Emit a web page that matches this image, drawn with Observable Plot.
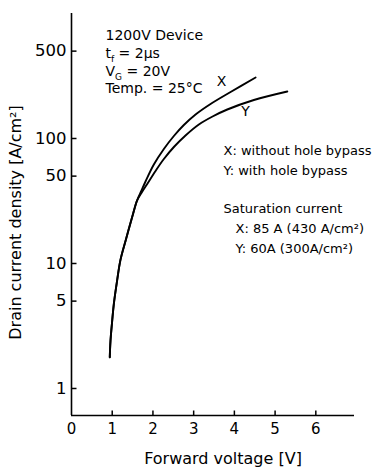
<!DOCTYPE html>
<html><head><meta charset="utf-8">
<script src="https://cdn.jsdelivr.net/npm/d3@7"></script>
<script src="https://cdn.jsdelivr.net/npm/@observablehq/plot@0.6"></script>
<style>body{margin:0;background:#fff;}</style>
</head><body><div id="chart"></div>
<script>
// Data
const xTicks = [0, 1, 2, 3, 4, 5, 6];
const yTicks = [1, 5, 10, 50, 100, 500];
const xDomain = [0, 6.95];
const yDomain = [0.608, 1000];

// common lower part of both curves
const sharedV = [0.94, 0.958, 1.0, 1.04, 1.12, 1.2, 1.33, 1.49, 1.61];
const sharedJ = [1.78, 2.42, 3.5, 4.76, 7.3, 10.6, 15.3, 23.5, 31.9];
// X: without hole bypass
const xV = [1.72, 1.818, 2.022, 2.268, 2.514, 2.759, 3.047, 3.415, 3.907, 4.521];
const xJ = [38.4, 45.3, 61.9, 82.4, 104.7, 128.2, 155.6, 188.8, 235.5, 307.6];
// Y: with hole bypass
const yV = [1.732, 1.86, 2.064, 2.268, 2.514, 2.80, 3.128, 3.464, 3.826, 4.479, 5.30];
const yJ = [37.3, 43.3, 55, 68.5, 85.5, 105.7, 129.4, 150, 170.6, 203.2, 237.7];

const noteLines = ["1200V Device", "t_f = 2μs", "V_G = 20V", "Temp. = 25°C"];
const legendLines = ["X: without hole bypass", "Y: with hole bypass", "", "Saturation current"];
const satLines = ["X: 85 A (430 A/cm²)", "Y: 60A (300A/cm²)"];
const curveLabels = ["X", "Y"];
const xLabel = "Forward voltage [V]";
const yLabel = "Drain current density [A/cm²]";

const zip = (v, j, s) => v.map((d, i) => ({v: d, j: j[i], s}));
const rows = [
  ...zip(sharedV, sharedJ, "X"), ...zip(xV, xJ, "X"),
  ...zip(sharedV, sharedJ, "Y"), ...zip(yV, yJ, "Y")
];

// inward tick glyphs (5 px)
const tickUp = {draw(ctx) { ctx.moveTo(0, 0); ctx.lineTo(0, -5); }};
const tickRight = {draw(ctx) { ctx.moveTo(0, 0); ctx.lineTo(5, 0); }};

const font = "DejaVu Sans";

const chart = Plot.plot({
  width: 376, height: 468,
  marginLeft: 71, marginTop: 13, marginRight: 22, marginBottom: 53,
  style: {fontFamily: font, color: "#000", background: "#fff"},
  x: {domain: xDomain, axis: null},
  y: {type: "log", domain: yDomain, axis: null},
  marks: [
    // axis lines
    Plot.ruleX([xDomain[0]], {strokeWidth: 1.6}),
    Plot.ruleY([yDomain[0]], {strokeWidth: 1.6}),
    // inward tick marks
    Plot.dot(xTicks.slice(1), {x: d => d, y: yDomain[0], symbol: tickUp, fill: "none", stroke: "#000", strokeWidth: 1.5}),
    Plot.dot(yTicks, {x: xDomain[0], y: d => d, symbol: tickRight, fill: "none", stroke: "#000", strokeWidth: 1.5}),
    // tick labels
    Plot.text(xTicks, {x: d => d, y: yDomain[0], text: d => String(d), lineAnchor: "top", dy: 8, fontSize: 15}),
    Plot.text(yTicks, {x: xDomain[0], y: d => d, text: d => String(d), textAnchor: "end", dx: -5, fontSize: 16.5}),
    // curves
    Plot.line(rows, {x: "v", y: "j", z: "s", curve: "catmull-rom", stroke: "#000", strokeWidth: 1.9}),
    // annotations
    Plot.text([noteLines.join("\n")], {frameAnchor: "top-left", textAnchor: "start", lineAnchor: "top", dx: 34, dy: 14, fontSize: 14, lineHeight: 1.27}),
    Plot.text([legendLines.join("\n")], {frameAnchor: "top-left", textAnchor: "start", lineAnchor: "top", dx: 152, dy: 128, fontSize: 13, lineHeight: 1.49}),
    Plot.text([satLines.join("\n")], {frameAnchor: "top-left", textAnchor: "start", lineAnchor: "top", dx: 164, dy: 206, fontSize: 13, lineHeight: 1.49}),
    Plot.text([curveLabels[0]], {frameAnchor: "top-left", textAnchor: "middle", lineAnchor: "middle", dx: 150, dy: 68, fontSize: 14}),
    Plot.text([curveLabels[1]], {frameAnchor: "top-left", textAnchor: "middle", lineAnchor: "middle", dx: 174, dy: 98, fontSize: 14}),
    // axis titles
    Plot.text([xLabel], {frameAnchor: "bottom", textAnchor: "middle", lineAnchor: "top", dx: 10, dy: 37, fontSize: 16}),
    Plot.text([yLabel], {frameAnchor: "left", textAnchor: "middle", lineAnchor: "middle", rotate: -90, dx: -56, dy: 8, fontSize: 16})
  ]
});

// subscripts (t_f, V_G)
const NS = "http://www.w3.org/2000/svg";
chart.querySelectorAll("text, tspan").forEach(el => {
  if (el.childNodes.length === 1 && el.firstChild.nodeType === 3) {
    const m = el.textContent.match(/^(.*?)_(\w)(.*)$/);
    if (!m) return;
    el.textContent = "";
    el.appendChild(document.createTextNode(m[1]));
    const sub = document.createElementNS(NS, "tspan");
    sub.setAttribute("dy", "4"); sub.setAttribute("font-size", "9");
    sub.textContent = m[2];
    el.appendChild(sub);
    const rest = document.createElementNS(NS, "tspan");
    rest.setAttribute("dy", "-4");
    rest.textContent = m[3];
    el.appendChild(rest);
  }
});

document.getElementById("chart").appendChild(chart);
</script>
</body></html>
